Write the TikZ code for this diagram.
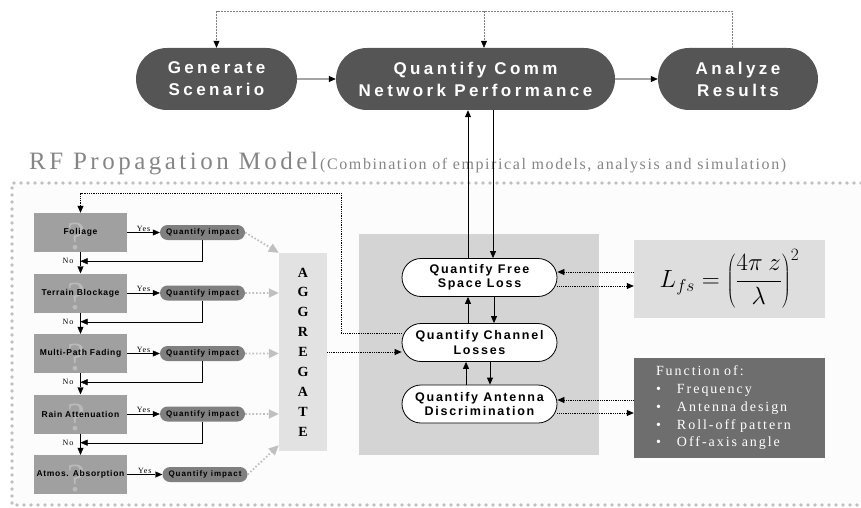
\documentclass[tikz,border=0pt]{standalone}
\usepackage{fontspec}
\setmainfont{Liberation Serif}
\newfontfamily\pillfont[LetterSpace=20]{Liberation Sans}
\newfontfamily\boxfont[LetterSpace=8]{Liberation Sans}
\newfontfamily\impfont[LetterSpace=12]{Liberation Sans}
\newfontfamily\lossfont[LetterSpace=14]{Liberation Sans}
\newfontfamily\titlefont[LetterSpace=14]{Liberation Serif}
\newfontfamily\notefont[LetterSpace=10]{Liberation Serif}
\newfontfamily\funcfont[LetterSpace=14]{Liberation Serif}
\usetikzlibrary{shapes.misc,arrows.meta}
\definecolor{pilldark}{HTML}{555555}
\definecolor{boxgray}{HTML}{A0A0A0}
\definecolor{qgray}{HTML}{BABABA}
\definecolor{impgray}{HTML}{808080}
\definecolor{panelgray}{HTML}{D4D4D4}
\definecolor{agggray}{HTML}{E2E2E2}
\definecolor{formgray}{HTML}{DEDEDE}
\definecolor{funcgray}{HTML}{6E6E6E}
\definecolor{dotgray}{HTML}{C0C0C0}
\definecolor{titlegray}{HTML}{858585}
\begin{document}
\begin{tikzpicture}[x=1pt,y=-1pt,
    >={Triangle[length=7pt,width=6pt]},
    stage/.style={rounded rectangle,fill=pilldark,text=white,minimum height=62pt,
      inner sep=0pt,align=center,font=\pillfont\bfseries\fontsize{17}{22}\selectfont},
    qbox/.style={fill=boxgray,minimum width=93pt,minimum height=39pt,inner sep=0pt,
      font=\boxfont\bfseries\fontsize{8.5}{10}\selectfont,
      path picture={\node[text=qgray,inner sep=0pt,font=\fontsize{40}{40}\selectfont]
        at ([xshift=-4.5pt,yshift=-4pt]path picture bounding box.center) {?};}},
    impact/.style={rounded rectangle,fill=impgray,minimum width=85pt,minimum height=15pt,
      inner sep=0pt,font=\impfont\bfseries\fontsize{8}{9}\selectfont},
    loss/.style={rounded rectangle,draw,line width=0.8pt,fill=white,minimum width=155pt,
      minimum height=38pt,inner sep=0pt,align=center,
      font=\lossfont\bfseries\fontsize{12.5}{14.5}\selectfont},
    small/.style={font=\notefont\fontsize{8}{9}\selectfont,inner sep=1pt},
    dotarr/.style={densely dotted,line width=0.8pt},
    topdot/.style={densely dotted,line width=0.5pt,gray},
    aggarr/.style={dotgray,line width=1.8pt,dash pattern=on 1.6pt off 2pt,
      -{Triangle[length=10pt,width=9pt]}},
    border/.style={dotgray,line width=3.6pt,line cap=round,dash pattern=on 0pt off 7pt}]
  \useasboundingbox (0,0) rectangle (861,508);
  % model area
  \fill[gray!2] (12,183) rectangle (861,505);
  \draw[border] (861,183) -- (12,183) -- (12,505) -- (861,505);
  \node[anchor=base west,inner sep=0pt,text=titlegray,
    font=\titlefont\fontsize{25}{25}\selectfont] (title) at (29,169) {RF Propagation Model};
  \node[anchor=base west,inner sep=0pt,text=titlegray,
    font=\notefont\fontsize{16}{16}\selectfont] (sub) at (320,169)
    {(Combination of empirical models, analysis and simulation)};
  % top row
  \node[stage,minimum width=161pt] (gen) at (216.5,79) {Generate\\Scenario};
  \node[stage,minimum width=279pt] (comm) at (475.5,79) {Quantify Comm\\Network Performance};
  \node[stage,minimum width=160pt] (ana) at (738,79) {Analyze\\Results};
  \draw[->,line width=0.8pt] (gen) -- (comm);
  \draw[->,line width=0.8pt] (comm) -- (ana);
  \coordinate (top) at (0,11);
  \coordinate (adot) at ([xshift=-6pt]ana.north);
  \coordinate (cdot) at ([xshift=8.5pt]comm.north);
  \draw[topdot,-{Triangle[length=7pt,width=6pt,black]}] (adot) |- (top -| gen.north) -- (gen.north);
  \draw[topdot,-{Triangle[length=7pt,width=6pt,black]}] (cdot |- top) -- (cdot);
  % losses
  \fill[panelgray] (359,234) rectangle (599,455);
  \node[loss] (fsl) at (479.5,277.5) {Quantify Free\\Space Loss};
  \node[loss] (chl) at (479.5,342.5) {Quantify Channel\\Losses};
  \node[loss] (ant) at (479.5,404) {Quantify Antenna\\Discrimination};
  \coordinate (up1) at ([xshift=-11.5pt]fsl.north);
  \coordinate (dn1) at ([xshift=13.5pt]fsl.north);
  \draw[->,line width=0.8pt] (up1) -- (up1 |- comm.south);
  \draw[<-,line width=0.8pt] (dn1) -- (dn1 |- comm.south);
  \coordinate (up2) at ([xshift=-11.5pt]fsl.south);
  \coordinate (dn2) at ([xshift=14.5pt]fsl.south);
  \draw[<-,line width=0.8pt] (up2) -- (up2 |- chl.north);
  \draw[->,line width=0.8pt] (dn2) -- (dn2 |- chl.north);
  \coordinate (up3) at ([xshift=-13.5pt]chl.south);
  \coordinate (dn3) at ([xshift=10.5pt]chl.south);
  \draw[<-,line width=0.8pt] (up3) -- (up3 |- ant.north);
  \draw[->,line width=0.8pt] (dn3) -- (dn3 |- ant.north);
  % side boxes
  \node[fill=formgray,minimum width=191pt,minimum height=78pt,inner sep=0pt,
    font=\fontsize{23}{27}\selectfont] (form) at (729.5,279)
    {$L_{fs}=\left(\displaystyle\frac{4\pi\ z}{\lambda}\right)^{2}$\hspace{24pt}};
  \node[fill=funcgray,text=white,minimum width=191pt,minimum height=100pt,inner xsep=22pt,
    text width=147pt,align=left,font=\funcfont\fontsize{14}{17.75}\selectfont] (func) at (729.5,408)
    {Function of:\\
     \makebox[21pt][l]{\textbullet}Frequency\\
     \makebox[21pt][l]{\textbullet}Antenna design\\
     \makebox[21pt][l]{\textbullet}Roll-off pattern\\
     \makebox[21pt][l]{\textbullet}Off-axis angle};
  \coordinate (fin) at ([yshift=5.5pt]fsl.east);
  \coordinate (fout) at ([yshift=-8.5pt]fsl.east);
  \draw[dotarr,<-] (fin) -- (fin -| form.west);
  \draw[dotarr,->] (fout) -- (fout -| form.west);
  \coordinate (ain) at ([yshift=4pt]ant.east);
  \coordinate (aout) at ([yshift=-9pt]ant.east);
  \draw[dotarr,<-] (ain) -- (ain -| func.west);
  \draw[dotarr,->] (aout) -- (aout -| func.west);
  % impairments
  \node[qbox] (fol) at (80.5,232.5) {Foliage};
  \node[qbox] (ter) at (80.5,293) {Terrain Blockage};
  \node[qbox] (mpf) at (80.5,353.5) {Multi-Path Fading};
  \node[qbox] (rain) at (80.5,414) {Rain Attenuation};
  \node[qbox] (atm) at (80.5,474.5) {Atmos. Absorption};
  \node[impact] (qfol) at (202.5,232.5) {Quantify impact};
  \node[impact] (qter) at (202.5,293) {Quantify impact};
  \node[impact] (qmpf) at (202.5,353.5) {Quantify impact};
  \node[impact] (qrain) at (202.5,414) {Quantify impact};
  \node[impact] (qatm) at (205,474.5) {Quantify impact};
  \draw[->] (fol) -- node[small,above]{Yes} (qfol);
  \draw[->] (ter) -- node[small,above]{Yes} (qter);
  \draw[->] (mpf) -- node[small,above]{Yes} (qmpf);
  \draw[->] (rain) -- node[small,above]{Yes} (qrain);
  \draw[->] (atm) -- node[small,above]{Yes} (qatm);
  \draw[->] (fol) -- (ter);
  \draw[->] (ter) -- (mpf);
  \draw[->] (mpf) -- (rain);
  \draw[->] (rain) -- (atm);
  \draw[->] (qfol.south) |- ([yshift=-9pt]fol.south) node[small,left=6pt]{No};
  \draw[->] (qter.south) |- ([yshift=-9pt]ter.south) node[small,left=6pt]{No};
  \draw[->] (qmpf.south) |- ([yshift=-9pt]mpf.south) node[small,left=6pt]{No};
  \draw[->] (qrain.south) |- ([yshift=-9pt]rain.south) node[small,left=6pt]{No};
  % aggregate
  \node[fill=agggray,minimum width=48pt,minimum height=198pt,inner sep=0pt,align=center,
    font=\bfseries\fontsize{14}{19.9}\selectfont] (agg) at (303,352) {A\\G\\G\\R\\E\\G\\A\\T\\E};
  \draw[aggarr] (qfol.east) -- (agg.north west);
  \draw[aggarr] (qter) -- (qter -| agg.west);
  \draw[aggarr] (qmpf) -- (qmpf -| agg.west);
  \draw[aggarr] (qrain) -- (qrain -| agg.west);
  \coordinate (aggbot) at ([yshift=6pt]agg.south west);
  \draw[aggarr] (qatm.east) -- (aggbot);
  \draw[dotarr,->] (agg) -- (agg -| chl.west);
  \coordinate (cl) at ([yshift=9.5pt]chl.west);
  \coordinate (loop) at (341,193);
  \draw[dotarr,->] (cl) -| (loop) -| (fol.north);
\end{tikzpicture}
\end{document}
